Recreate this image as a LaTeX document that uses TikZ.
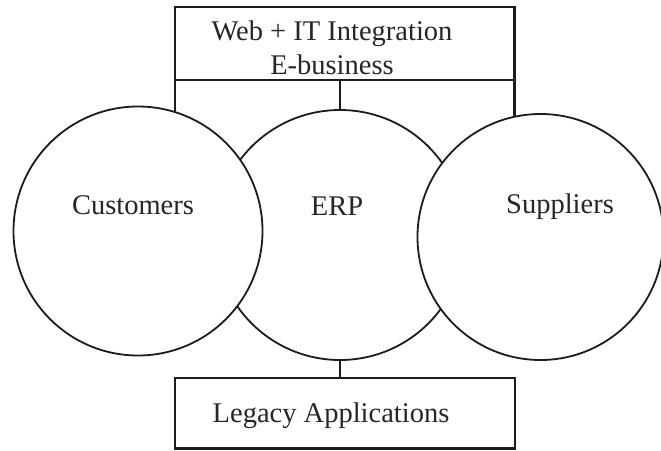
\documentclass[tikz,border=0pt]{standalone}
\usepackage{fontspec}
\setmainfont{Liberation Serif}
\usetikzlibrary{backgrounds}
\definecolor{ink}{HTML}{1C1C1C}
\definecolor{txt}{HTML}{262626}
\begin{document}
\begin{tikzpicture}[x=1pt,y=-1pt,
  ring/.style={circle,draw=ink,line width=1.8pt,fill=white,inner sep=0pt,outer sep=0pt},
  boxy/.style={rectangle,draw=ink,line width=2.8pt,inner sep=0pt,outer sep=0pt},
  lbl/.style={anchor=base,inner sep=0pt,text=txt,font=\fontsize{28.5}{34}\selectfont},
  link/.style={draw=ink,line width=2.8pt}]
\useasboundingbox (0,0) rectangle (661,450);
% boxes
\node[boxy,minimum width=339.4pt,minimum height=73pt] (web) at (344.7,43.5) {};
\node[boxy,minimum width=340pt,minimum height=70.5pt] (legacy) at (345,413.2) {};
% circles (ERP below the others)
\node[ring,minimum size=250pt] (erp) at (340,235) {};
\node[ring,minimum size=249pt] (cust) at (138,231) {};
\node[ring,minimum size=246pt] (supp) at (540.5,237) {};
% texts
\node[lbl] (t1) at (332,40.7) {Web + IT Integration};
\node[lbl] (t2) at (332,74.2) {E-business};
\node[lbl] (t3) at (133,214) {Customers};
\node[lbl] (t4) at (337,215) {ERP};
\node[lbl] (t5) at (560,213) {Suppliers};
\node[lbl] (t6) at (331,422) {Legacy Applications};
% connectors behind the circles
\begin{scope}[on background layer]
\draw[link] (web.south west) -- (web.south west |- cust.center);
\draw[link] (web.south east) -- (web.south east |- supp.center);
\draw[link] (erp.center |- web.south) -- (erp.center);
\draw[link] (erp.center) -- (erp.center |- legacy.north);
\end{scope}
\end{tikzpicture}
\end{document}
